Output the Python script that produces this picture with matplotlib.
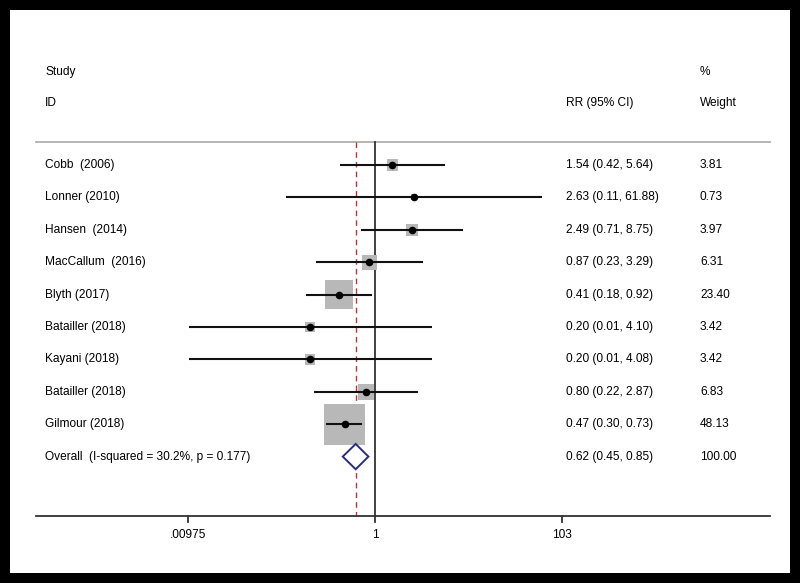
import numpy as np
import matplotlib.pyplot as plt

plt.rcParams['font.family'] = ['Liberation Sans', 'DejaVu Sans']

# study data
studies = ["Cobb  (2006)", "Lonner (2010)", "Hansen  (2014)", "MacCallum  (2016)",
           "Blyth (2017)", "Batailler (2018)", "Kayani (2018)", "Batailler (2018)",
           "Gilmour (2018)"]
rr = [1.54, 2.63, 2.49, 0.87, 0.41, 0.20, 0.20, 0.80, 0.47]
ci_low = [0.42, 0.11, 0.71, 0.23, 0.18, 0.01, 0.01, 0.22, 0.30]
ci_high = [5.64, 61.88, 8.75, 3.29, 0.92, 4.10, 4.08, 2.87, 0.73]
weights = [3.81, 0.73, 3.97, 6.31, 23.40, 3.42, 3.42, 6.83, 48.13]

overall_label = "Overall  (I-squared = 30.2%, p = 0.177)"
overall_rr = 0.62
overall_low = 0.45
overall_high = 0.85

xticks = [0.00975, 1, 103]
xtick_labels = [".00975", "1", "103"]

W, H = 800, 583
fig = plt.figure(figsize=(W / 100, H / 100), dpi=100)
fig.patch.set_facecolor("black")

# white panel inside the black frame
bg = fig.add_axes([10 / W, 10 / H, 780 / W, 563 / H], zorder=0)
bg.set_facecolor("white")
bg.set_xticks([])
bg.set_yticks([])
for s in bg.spines.values():
    s.set_visible(False)

ax = fig.add_axes([0, 0, 1, 1], zorder=1)
ax.set_facecolor("none")
ax.axis("off")
# pixel mapping: x = 375 + 93*log10(v), row i at y = 165 + 32.4*i
ax.set_xscale("log")
ax.set_xlim(10 ** (-375 / 93), 10 ** (425 / 93))
row_h = 32.4
ax.set_ylim((H - 165) / row_h, -165 / row_h)

def px_to_x(p):
    return 10 ** ((p - 375) / 93)

def py_to_row(p):
    return (p - 165) / row_h

x_left, x_right = px_to_x(36), px_to_x(770)
y_top = py_to_row(142)
y_axis = py_to_row(516)

trans = ax.get_yaxis_transform()  # x in axes fraction, y in data
blend = lambda px: px / W

fs = 8.6
ax.text(blend(45), py_to_row(72), "Study", fontsize=fs, va="center", transform=trans)
ax.text(blend(45), py_to_row(103), "ID", fontsize=fs, va="center", transform=trans)
ax.text(blend(566), py_to_row(103), "RR (95% CI)", fontsize=fs, va="center", transform=trans)
ax.text(blend(700), py_to_row(72), "%", fontsize=fs, va="center", transform=trans)
ax.text(blend(700), py_to_row(103), "Weight", fontsize=fs, va="center", transform=trans)

# header line
ax.plot([x_left, x_right], [y_top, y_top], color="#b0b0b0", lw=1.3, zorder=2)

# reference lines
ax.plot([1, 1], [y_top, y_axis], color="#333333", lw=1.3, zorder=2)
ax.plot([overall_rr, overall_rr], [y_top, y_axis], color="#b03a3a", lw=1.0,
        ls=(0, (4, 3)), zorder=2)

rows = np.arange(len(studies))
max_side = 39 * 0.72  # points for the largest box
sides = max_side * np.sqrt(np.array(weights) / max(weights))
sides = np.maximum(sides, 4)
ax.scatter(rr, rows, s=(sides * 1.05) ** 2, marker="s", color="#b8b8b8", edgecolors="none", zorder=3)
ax.hlines(rows, ci_low, ci_high, color="#111111", lw=1.5, zorder=4)
ax.scatter(rr, rows, s=20, color="black", zorder=5)

for i in rows:
    ax.text(blend(45), i, studies[i], fontsize=fs, va="center", transform=trans)
    ax.text(blend(566), i, f"{rr[i]:.2f} ({ci_low[i]:.2f}, {ci_high[i]:.2f})",
            fontsize=fs, va="center", transform=trans)
    ax.text(blend(700), i, f"{weights[i]:.2f}", fontsize=fs, va="center", transform=trans)

# overall diamond
oy = len(studies)
dh = 0.39
ax.fill([overall_low, overall_rr, overall_high, overall_rr, overall_low],
        [oy, oy - dh, oy, oy + dh, oy], facecolor="white", edgecolor="#2a2e78",
        lw=1.4, zorder=6)
ax.text(blend(45), oy, overall_label, fontsize=fs, va="center", transform=trans)
ax.text(blend(566), oy, f"{overall_rr:.2f} ({overall_low:.2f}, {overall_high:.2f})",
        fontsize=fs, va="center", transform=trans)
ax.text(blend(700), oy, "100.00", fontsize=fs, va="center", transform=trans)

# x axis
ax.plot([x_left, x_right], [y_axis, y_axis], color="#333333", lw=1.3, zorder=2)
tick_len = 6 / row_h
for t, lab in zip(xticks, xtick_labels):
    ax.plot([t, t], [y_axis, y_axis + tick_len], color="#333333", lw=1.3)
    ax.text(t, py_to_row(535), lab, fontsize=fs, ha="center", va="center")

fig.savefig("out.png", dpi=100, facecolor=fig.get_facecolor())
